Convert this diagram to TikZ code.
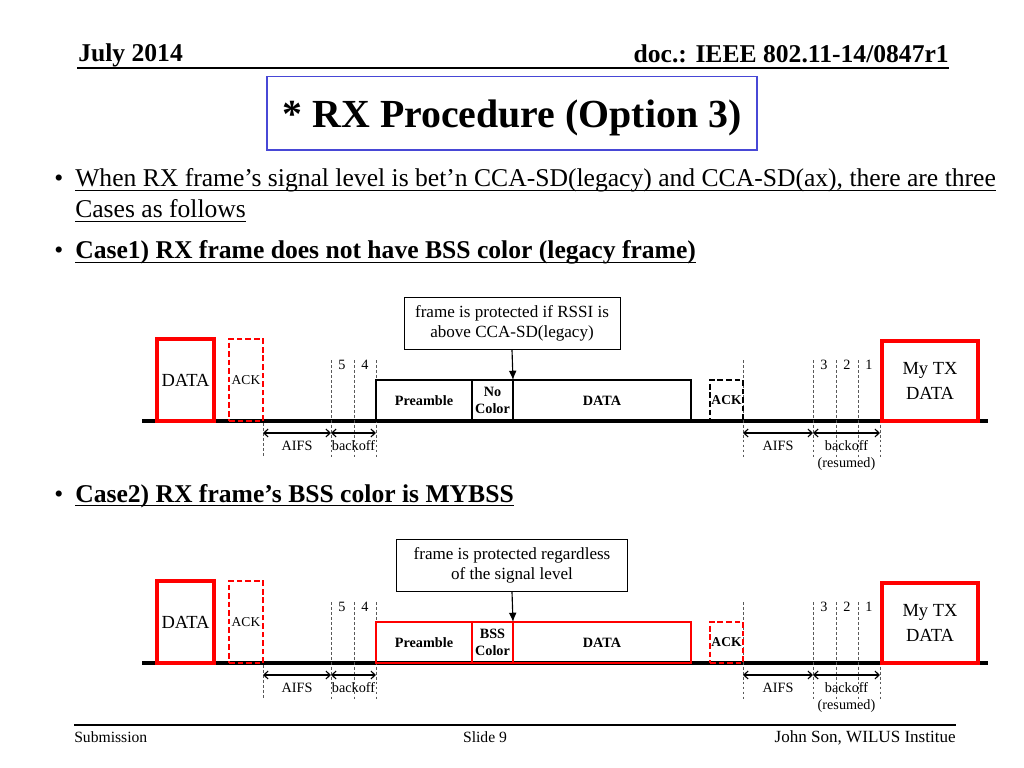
\documentclass[tikz,border=0pt]{standalone}
\usepackage{fontspec}
\setmainfont{Liberation Serif}
\usetikzlibrary{positioning,arrows,arrows.meta,calc}
\definecolor{titleblue}{RGB}{72,72,214}
\newcommand{\pxu}{0.703125pt}
\newcommand{\fsz}[2]{\fontsize{#1}{#2}\selectfont}
\newcommand{\undl}[2][0.8pt]{\setbox0\hbox{#2}\rlap{\rule[-3pt]{\wd0}{#1}}\box0}

\begin{document}
\begin{tikzpicture}[x=\pxu, y=-\pxu,
  hdr/.style={inner sep=0pt, font=\bfseries\fsz{18}{21.6}},
  foot/.style={inner sep=0pt, font=\fsz{11}{13}},
  bullet/.style={inner sep=0pt, anchor=base west, font=\fsz{18}{21.6}},
  hline/.style={line width=1pt},
  titlebox/.style={draw=titleblue, line width=0.8pt, inner sep=0pt, minimum width=490*\pxu,
    text height=36pt, text depth=15.5pt, anchor=base, font=\bfseries\fsz{28}{33}},
  timeline/.style={line width=2.2pt},
  databox/.style={draw=red, line width=2.2pt, inner sep=0pt, outer sep=0pt, anchor=south west,
    align=center, font=\fsz{13}{17}},
  ackbox/.style={draw=#1, line width=2pt, dash pattern=on 4pt off 2pt, inner sep=0pt,
    outer sep=0pt, anchor=south west},
  field/.style={draw=#1, line width=2pt, inner sep=0pt, outer sep=0pt, minimum height=41*\pxu,
    align=center, font=\bfseries\fsz{10}{12}},
  slot/.style={black!65, line width=0.5pt, dash pattern=on 2pt off 1.5pt},
  span/.style={{Straight Barb[length=3pt,width=5.5pt]}-{Straight Barb[length=3pt,width=5.5pt]}, line width=0.8pt},
  lbl/.style={inner sep=0pt, align=center, font=\fsz{10}{12}},
  note/.style={draw, fill=white, line width=0.6pt, align=center, anchor=south,
    minimum height=52*\pxu, font=\fsz{12}{14}}
]
\fill[white, use as bounding box] (0,0) rectangle (1024,768);

% header and footer
\node[hdr, anchor=base west] (month) at (78,62) {July 2014};
\node[hdr, anchor=base east] (docno) at (949,63) {doc.: IEEE 802.11-14/0847r1};
\draw[hline] (77,68) -- (949,68);
\draw[hline] (74,725) -- (956,725);
\node[foot, anchor=base west] (subm) at (74,742) {Submission};
\node[foot, anchor=base] (slide) at (485,742) {Slide 9};
\node[foot, anchor=base east, font=\fsz{12}{14}] (auth) at (956,742) {John Son, WILUS Institue};

% title
\node[titlebox] (title) at (512,128) {* RX Procedure (Option 3)};

% bullets
\foreach \y in {187,259,502}
  \node[bullet] (dot\y) at (54,\y) {•};
\node[bullet] (b1) at (75,187) {\undl{When RX frame’s signal level is bet’n CCA-SD(legacy) and CCA-SD(ax), there are three}};
\node[bullet] (b1b) at (75,218) {\undl{Cases as follows}};
\node[bullet, font=\bfseries\fsz{18}{21.6}] (b2) at (75,259) {\undl[1.2pt]{Case1) RX frame does not have BSS color (legacy frame)}};
\node[bullet, font=\bfseries\fsz{18}{21.6}] (b3) at (75,502) {\undl[1.2pt]{Case2) RX frame’s BSS color is MYBSS}};

% the two timelines
\foreach \ci/\dy/\col/\fname/\nw/\txt in {
    1/0/black/No/216/{frame is protected if RSSI is\\above CCA-SD(legacy)},
    2/242/red/BSS/231/{frame is protected regardless\\of the signal level}}{
\begin{scope}[yshift=-\dy*\pxu]
  \coordinate (start\ci) at (142,421);
  \coordinate (end\ci) at (988,421);
  \draw[timeline] (start\ci) -- (end\ci);
  % slot boundaries
  \draw[slot] (263,423) -- (263,457);
  \foreach \x in {331,354,376,743,813,836,858,880}
    \draw[slot] (\x,360) -- (\x,457);
  \foreach \x/\slotno in {342/5,365/4,824/3,847/2,869/1}
    \node[lbl] (num\ci\slotno) at (\x,365) {\slotno};
  % previous exchange
  \node[databox, minimum width=57*\pxu, minimum height=82*\pxu] (prev\ci) at (157,421) {DATA};
  \node[ackbox=red, minimum width=34*\pxu, minimum height=82*\pxu, font=\fsz{9.5}{11}] (pack\ci) at (229,421) {ACK};
  % received frame
  \node[field=\col, anchor=south west, minimum width=96*\pxu] (pre\ci) at (376,421) {Preamble};
  \node[field=\col, right=0pt of pre\ci, minimum width=41*\pxu] (fld\ci) {\fname\\Color};
  \node[field=\col, right=0pt of fld\ci, minimum width=178*\pxu] (dat\ci) {DATA};
  \node[ackbox=\col, minimum width=33*\pxu, minimum height=41*\pxu, font=\bfseries\fsz{9.5}{11}] (ack\ci) at (710,421) {ACK};
  % own transmission
  \node[databox, minimum width=96*\pxu, minimum height=80*\pxu] (mytx\ci) at (882,421) {My TX\\DATA};
  % callout
  \node[note, minimum width=\nw*\pxu] (note\ci) at (512,350) {\txt};
  \draw[-{Latex[length=6.5pt,width=5.5pt]}, line width=0.8pt] (note\ci.south) -- (fld\ci.north east);
  % intervals
  \coordinate (ackend\ci) at (263,433);
  \coordinate (aifs\ci) at (331,433);
  \coordinate (bkoff\ci) at (376,433);
  \coordinate (ackend2\ci) at (743,433);
  \coordinate (aifs2\ci) at (813,433);
  \coordinate (bkoff2\ci) at (880,433);
  \draw[span] (ackend\ci) -- node[lbl, below=5pt] (la\ci) {AIFS} (aifs\ci);
  \draw[span] (aifs\ci) -- node[lbl, below=5pt] (lb\ci) {backoff} (bkoff\ci);
  \draw[span] (ackend2\ci) -- node[lbl, below=5pt] (lc\ci) {AIFS} (aifs2\ci);
  \draw[span] (aifs2\ci) -- node[lbl, below=5pt] (ld\ci) {backoff\\(resumed)} (bkoff2\ci);
\end{scope}
}
\end{tikzpicture}
\end{document}
